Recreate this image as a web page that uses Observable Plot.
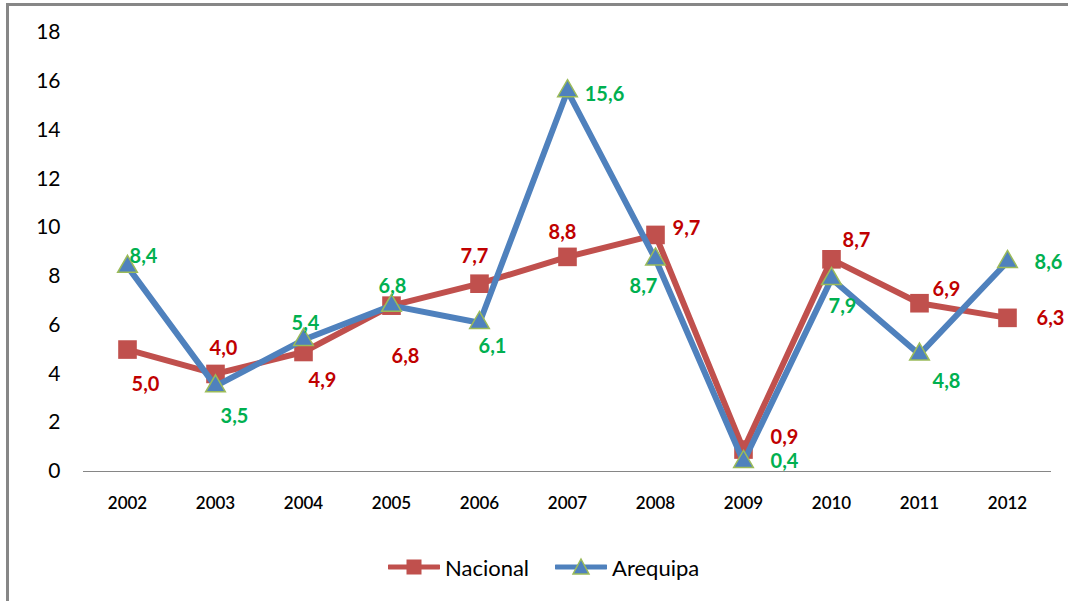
<!DOCTYPE html>
<html>
<head>
<meta charset="utf-8">
<script src="https://cdn.jsdelivr.net/npm/d3@7"></script>
<script src="https://cdn.jsdelivr.net/npm/@observablehq/plot@0.6"></script>
<style>
  html, body { margin: 0; padding: 0; background: #fff; }
  body { width: 1068px; height: 601px; overflow: hidden; position: relative; font-family: Lato, "Open Sans", sans-serif; }
  #frame { position: absolute; left: 6px; top: 3px; width: 1300px; height: 900px; border-left: 3px solid #878787; border-top: 3px solid #878787; box-sizing: border-box; }
  #chart { position: absolute; left: 0; top: 0; }
  #legend { position: absolute; left: 388px; top: 553px; height: 28px; display: flex; align-items: center; font-size: 22px; color: #000; }
  #legend .item { display: flex; align-items: center; }
  #legend svg { display: block; }
</style>
</head>
<body>
<div id="frame"></div>
<div id="chart"></div>
<div id="legend"></div>
<script>
// ---- data ----
const years = [2002, 2003, 2004, 2005, 2006, 2007, 2008, 2009, 2010, 2011, 2012];
const nacional = [5.0, 4.0, 4.9, 6.8, 7.7, 8.8, 9.7, 0.9, 8.7, 6.9, 6.3];
const arequipa = [8.4, 3.5, 5.4, 6.8, 6.1, 15.6, 8.7, 0.4, 7.9, 4.8, 8.6];
const yTicks = [0, 2, 4, 6, 8, 10, 12, 14, 16, 18];
const seriesNames = ["Nacional", "Arequipa"];

// ---- label placement (styling, px offsets) ----
const offNacional = [[18, 35], [8, -25], [19, 29], [14, 51], [-5, -27], [-5, -24], [31, -6], [41, -12], [25, -19], [27, -14], [43, 1]];
const offArequipa = [[16, -10], [19, 30], [2, -16], [1, -19], [13, 24], [37, 4], [-12, 27], [41, 0], [11, 28], [27, 27], [41, 1]];

const RED = "#c0504d", BLUE = "#4f81bd", TRI_STROKE = "#9bbb59";
const RED_TXT = "#c00000", GREEN_TXT = "#00b050";

const dataN = years.map((y, i) => ({year: y, value: nacional[i]}));
const dataA = years.map((y, i) => ({year: y, value: arequipa[i]}));
const fmt = v => v.toFixed(1).replace(".", ",");

const labelMarks = (data, offs, color) => data.map((d, i) =>
  Plot.text([d], {x: "year", y: "value", text: d => fmt(d.value), dx: offs[i][0], dy: offs[i][1],
    fill: color, fontSize: 20, fontWeight: "bold", textAnchor: "middle"}));

const chart = Plot.plot({
  width: 1068, height: 601,
  marginLeft: 83, marginRight: 17, marginTop: 32, marginBottom: 130,
  style: {fontFamily: "Lato, 'Open Sans', sans-serif", background: "transparent", overflow: "visible"},
  x: {domain: [2001.5, 2012.5], label: null},
  y: {domain: [0, 18], label: null},
  marks: [
    Plot.axisY(yTicks, {tickSize: 0, tickPadding: 23, fontSize: 21, fill: "#000", label: null}),
    Plot.axisX(years, {tickSize: 0, tickPadding: 25, fontSize: 17, fontWeight: 600, fill: "#000", tickFormat: d => String(d), label: null}),
    Plot.ruleY([0], {stroke: "#868686", strokeWidth: 1}),
    Plot.line(dataN, {x: "year", y: "value", stroke: RED, strokeWidth: 6, strokeLinejoin: "round", strokeLinecap: "round"}),
    Plot.dot(dataN, {x: "year", y: "value", symbol: "square", r: 10.5, fill: RED, stroke: "none"}),
    Plot.line(dataA, {x: "year", y: "value", stroke: BLUE, strokeWidth: 6, strokeLinejoin: "round", strokeLinecap: "round"}),
    Plot.dot(dataA, {x: "year", y: "value", symbol: "triangle", r: 7.3, fill: BLUE, stroke: TRI_STROKE, strokeWidth: 1.5}),
    ...labelMarks(dataN, offNacional, RED_TXT),
    ...labelMarks(dataA, offArequipa, GREEN_TXT)
  ]
});
document.getElementById("chart").appendChild(chart);

// ---- legend ----
const legend = document.getElementById("legend");
const swatches = [
  `<svg width="52" height="20"><line x1="1" y1="10" x2="51" y2="10" stroke="${RED}" stroke-width="5" stroke-linecap="round"/><rect x="18.5" y="2.5" width="15" height="15" fill="${RED}"/></svg>`,
  `<svg width="52" height="20"><line x1="1" y1="10" x2="51" y2="10" stroke="${BLUE}" stroke-width="5" stroke-linecap="round"/><path d="M26,2 L34,17 L18,17 Z" fill="${BLUE}" stroke="${TRI_STROKE}" stroke-width="1.5"/></svg>`
];
seriesNames.forEach((name, i) => {
  const item = document.createElement("div");
  item.className = "item";
  item.style.marginRight = i === 0 ? "26px" : "0";
  item.innerHTML = swatches[i] + `<span style="margin-left:5px">${name}</span>`;
  legend.appendChild(item);
});
</script>
</body>
</html>
